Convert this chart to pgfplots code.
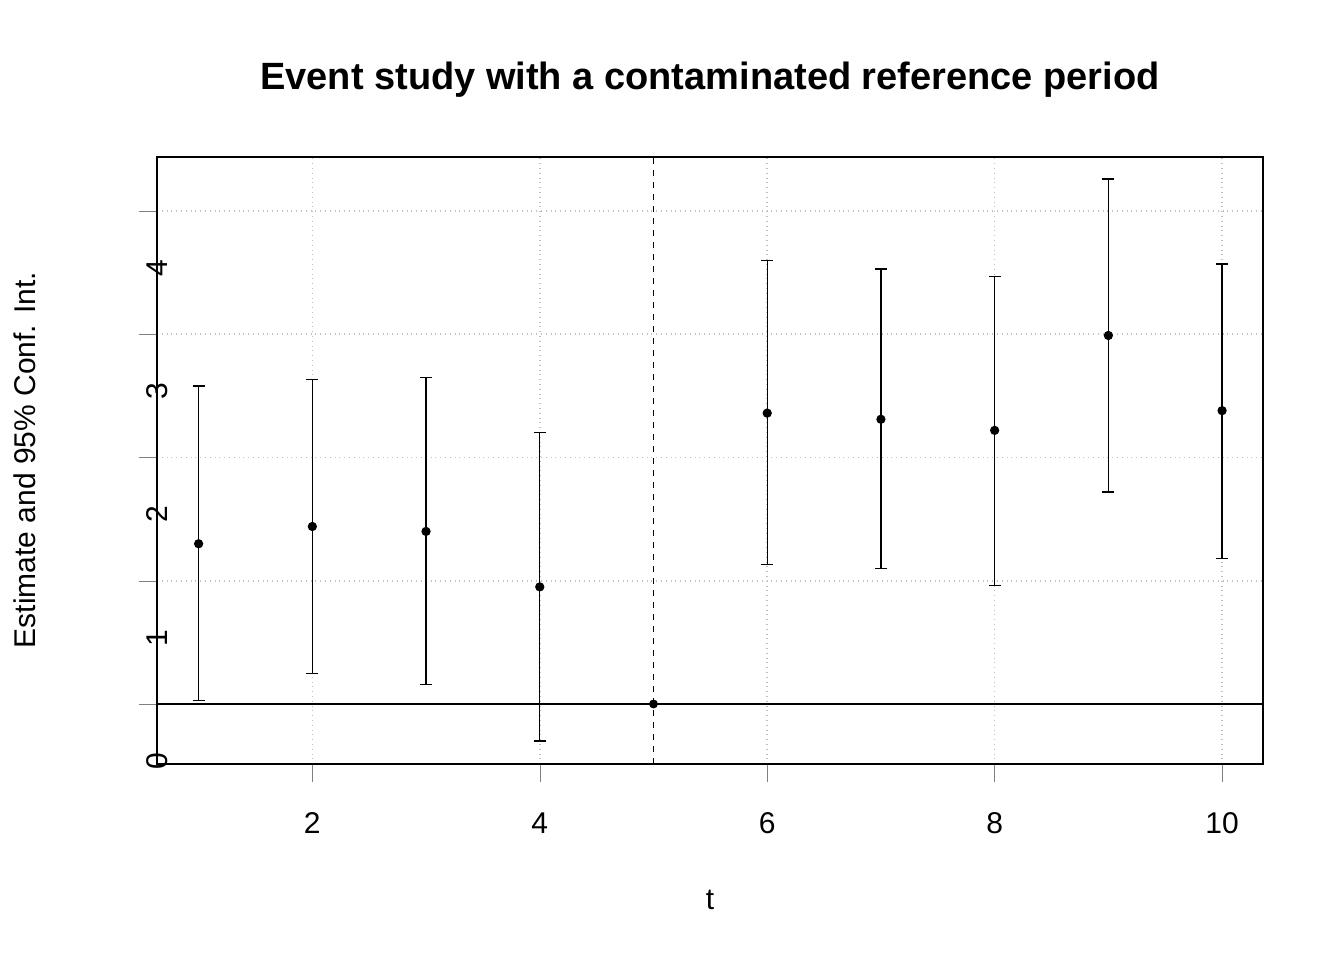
\documentclass[border=0pt]{standalone}
\usepackage{pgfplots}
\pgfplotsset{compat=1.18}
\usepackage{fontspec}
\setmainfont{Liberation Sans}
\begin{document}
\begin{tikzpicture}
\path (-78.5pt,-98pt) rectangle (593.5pt,382pt);
\begin{axis}[at={(0,0)},anchor=south west,scale only axis,width=553pt,height=303.5pt,
 xmin=0.634,xmax=10.36,ymin=-0.487,ymax=4.438,
 xtick={2,4,6,8,10},ytick={0,1,2,3,4},
 xticklabels={},yticklabels={},
 tick align=outside,major tick length=9pt,xtick pos=bottom,ytick pos=left,
 grid=major,grid style={gray!50,dotted,line width=0.8pt},
 axis line style={line width=0.6pt},
 clip=false]
\addplot[black,line width=0.6pt] coordinates {(0.634,0) (10.36,0)};
\addplot[black,dashed,line width=0.6pt] coordinates {(5,-0.487) (5,4.438)};
\addplot[only marks,mark=*,mark size=2pt,black,line width=0.6pt,
 error bars/.cd,y dir=both,y explicit,error bar style={line width=0.6pt},
 error mark options={rotate=90,mark size=3pt,line width=0.6pt}]
 coordinates {
 (1,1.30) += (0,1.28) -= (0,1.27)
 (2,1.44) += (0,1.19) -= (0,1.19)
 (3,1.40) += (0,1.25) -= (0,1.24)
 (4,0.95) += (0,1.25) -= (0,1.25)
 (6,2.36) += (0,1.24) -= (0,1.23)
 (7,2.31) += (0,1.22) -= (0,1.21)
 (8,2.22) += (0,1.25) -= (0,1.26)
 (9,2.99) += (0,1.27) -= (0,1.27)
 (10,2.38) += (0,1.19) -= (0,1.20)
 };
\addplot[only marks,mark=*,mark size=2pt,black] coordinates {(5,0)};
\foreach \v in {2,4,6,8,10}{
 \edef\tmp{\noexpand\node[font=\noexpand\fontsize{15pt}{18pt}\noexpand\selectfont,anchor=center,yshift=-29.5pt] at (axis cs:\v,-0.487) {\v};}\tmp}
\foreach \v in {0,1,2,3,4}{
 \edef\tmp{\noexpand\node[font=\noexpand\fontsize{15pt}{18pt}\noexpand\selectfont,anchor=center,rotate=90,xshift=-28.5pt] at (axis cs:0.634,\v) {\v};}\tmp}
\end{axis}
\node[font=\fontsize{19pt}{23pt}\selectfont\bfseries] at (276.5pt,342pt) {Event study with a contaminated reference period};
\node[font=\fontsize{15pt}{18pt}\selectfont] at (276.5pt,-68pt) {t};
\node[font=\fontsize{15pt}{18pt}\selectfont,rotate=90] at (-66pt,152pt) {Estimate and 95\% Conf. Int.};
\end{tikzpicture}
\end{document}
